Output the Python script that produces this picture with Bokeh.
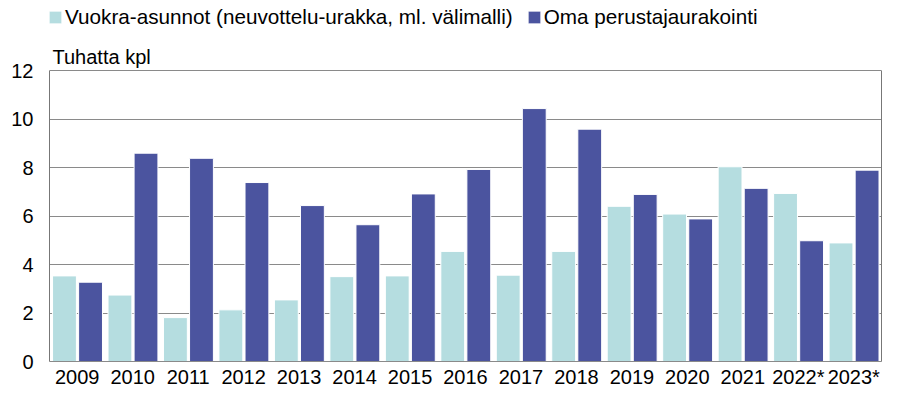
from bokeh.plotting import figure
from bokeh.models import (ColumnDataSource, FactorRange, Range1d, Legend, LegendItem, Label,
                          FixedTicker, LinearAxis)
from bokeh.transform import dodge
from bokeh.embed import file_html
from bokeh.resources import INLINE

years = ["2009", "2010", "2011", "2012", "2013", "2014", "2015", "2016",
         "2017", "2018", "2019", "2020", "2021", "2022*", "2023*"]
vuokra = [3.53, 2.74, 1.81, 2.13, 2.54, 3.50, 3.53, 4.54, 3.56, 4.54, 6.40, 6.08, 8.03, 6.93, 4.89]
oma = [3.27, 8.59, 8.38, 7.38, 6.43, 5.64, 6.91, 7.92, 10.43, 9.58, 6.89, 5.88, 7.14, 4.98, 7.89]
yticks = [0, 2, 4, 6, 8, 10, 12]
series_names = ["Vuokra-asunnot (neuvottelu-urakka, ml. välimalli)", "Oma perustajaurakointi"]
y_title = "Tuhatta kpl"

LIGHT = "#B5DDE0"
DARK = "#4B549F"
FONT = "Liberation Sans"
FS = "20px"
LINE = "#777777"
GRID = "#8a8a8a"

W, H = 883, 390
BL, BR, BB = 49, 2, 29
FRAME_H = H - BB          # frame spans from the top of the canvas to the x axis
TOP_PAD = 70              # pixels between frame top and the value 12
Y_MAX = yticks[-1]
Y_END = Y_MAX * FRAME_H / (FRAME_H - TOP_PAD)

src = ColumnDataSource(dict(year=years, vuokra=vuokra, oma=oma))

p = figure(x_range=FactorRange(*years, range_padding=0), y_range=Range1d(0, Y_END),
           width=W, height=H, output_backend="svg", toolbar_location=None,
           min_border_left=BL, min_border_right=BR, min_border_top=0, min_border_bottom=BB)
p.background_fill_color = "white"
p.border_fill_color = "white"
p.outline_line_color = None

r1 = p.vbar(x=dodge("year", -0.23, range=p.x_range), top="vuokra", width=0.43, source=src,
            fill_color=LIGHT, line_color="white", line_width=1)
r2 = p.vbar(x=dodge("year", 0.24, range=p.x_range), top="oma", width=0.43, source=src,
            fill_color=DARK, line_color="white", line_width=1)

p.yaxis.ticker = FixedTicker(ticks=yticks)
p.yaxis.bounds = (0, Y_MAX)
for ax in (p.xaxis, p.yaxis):
    ax.major_tick_line_color = None
    ax.minor_tick_line_color = None
    ax.major_tick_out = 0
    ax.minor_tick_out = 0
    ax.major_label_text_font = FONT
    ax.major_label_text_font_size = FS
    ax.major_label_text_color = "black"
    ax.axis_line_color = LINE
p.xaxis.major_label_standoff = 4
p.yaxis.major_label_standoff = 16
p.xaxis.axis_line_color = GRID
p.xgrid.grid_line_color = None
p.ygrid.grid_line_color = GRID

right_axis = LinearAxis(ticker=FixedTicker(ticks=[]), bounds=(0, Y_MAX),
                        axis_line_color=LINE, major_tick_out=0, minor_tick_out=0,
                        major_tick_line_color=None, minor_tick_line_color=None,
                        major_label_standoff=0, major_label_text_font_size="0px")
p.add_layout(right_axis, "right")

p.add_layout(Label(x=3, y=FRAME_H - TOP_PAD + 14, x_units="screen", y_units="screen",
                   text=y_title, text_baseline="alphabetic", text_font=FONT,
                   text_font_size=FS, text_color="black"))

legend = Legend(items=[LegendItem(label=series_names[0], renderers=[r1]),
                       LegendItem(label=series_names[1], renderers=[r2])],
                orientation="horizontal", location=(-2, FRAME_H - 29),
                glyph_width=16, glyph_height=16, label_standoff=2, spacing=13,
                padding=0, margin=0, border_line_color=None, background_fill_alpha=0,
                label_text_font=FONT, label_text_font_size="20.7px", label_text_color="black")
p.add_layout(legend)

open("out.html", "w").write(file_html(p, INLINE))
